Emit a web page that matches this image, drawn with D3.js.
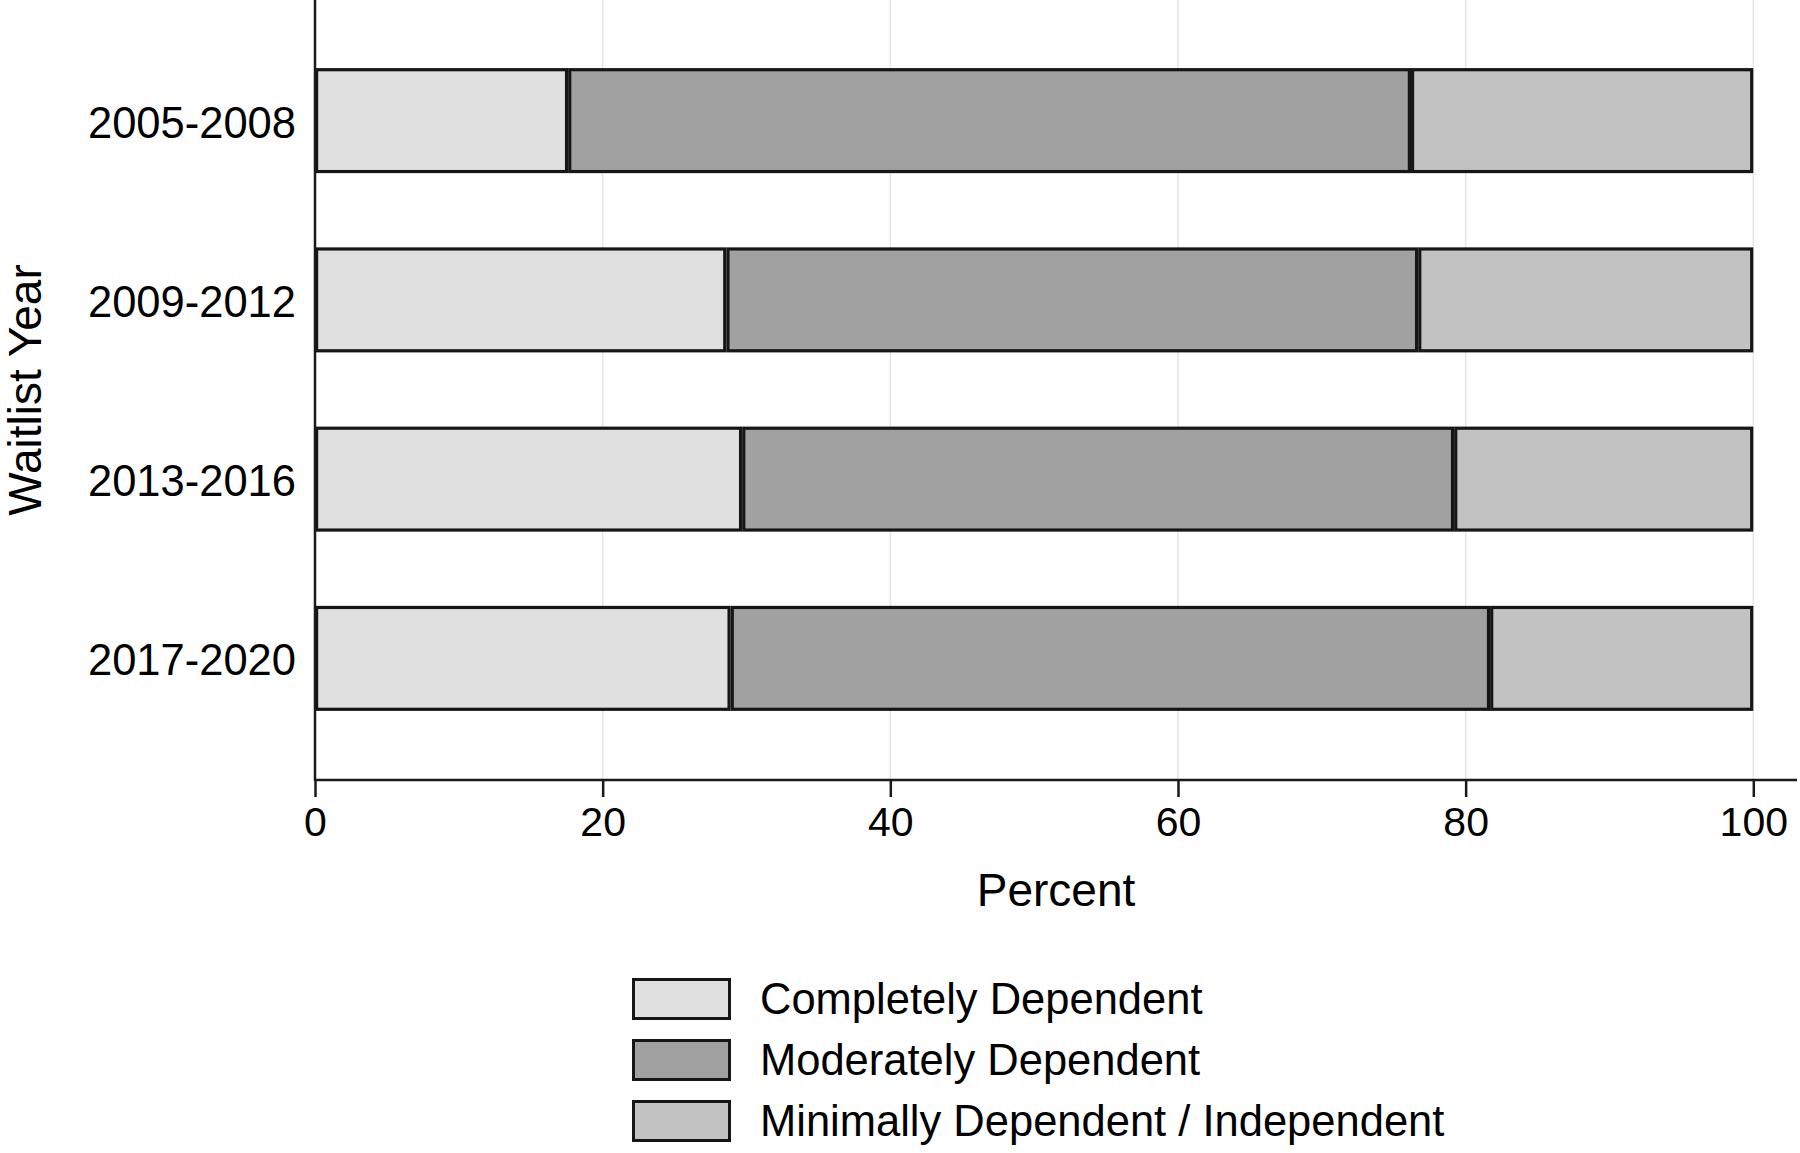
<!DOCTYPE html>
<html>
<head>
<meta charset="utf-8">
<script src="https://cdn.jsdelivr.net/npm/d3@7"></script>
<style>
  html, body { margin: 0; padding: 0; background: #fff; }
  svg { display: block; }
  text { font-family: "Liberation Sans", Arial, Helvetica, sans-serif; fill: #000; }
</style>
</head>
<body>
<svg id="chart" width="1800" height="1153"></svg>
<script>
// ---- data ----
const categories = ["2005-2008", "2009-2012", "2013-2016", "2017-2020"];
const seriesNames = ["Completely Dependent", "Moderately Dependent", "Minimally Dependent / Independent"];
const completely = [17.6, 28.6, 29.7, 28.9];
const moderately = [58.6, 48.1, 49.5, 52.8];
const minimally  = [23.8, 23.3, 20.8, 18.3];
const xTicks = [0, 20, 40, 60, 80, 100];
const xTitle = "Percent";
const yTitle = "Waitlist Year";

const colors = ["#e0e0e0", "#a1a1a1", "#c2c2c2"];

const svg = d3.select("#chart");
const xAxisY = 780, left = 315, right = 1797;

const x = d3.scaleLinear().domain([0, 100]).range([left, 1753.3]);
const y = d3.scaleBand().domain(categories).range([31, 748]).paddingInner(0.414).paddingOuter(0.207);

// gridlines
svg.append("g").selectAll("line").data(xTicks.filter(d => d > 0)).join("line")
  .attr("x1", d => x(d)).attr("x2", d => x(d))
  .attr("y1", 0).attr("y2", xAxisY)
  .attr("stroke", "#e6e6e6").attr("stroke-width", 1.5);

// stacked data
const rows = categories.map((c, i) => ({cat: c, v: [completely[i], moderately[i], minimally[i]]}));
const sw = 3.2;
const gBars = svg.append("g");
rows.forEach(r => {
  let acc = 0;
  r.v.forEach((v, k) => {
    const x0 = x(acc), x1 = x(acc + v);
    acc += v;
    gBars.append("rect")
      .attr("x", x0 + sw / 2).attr("width", Math.max(0, x1 - x0 - sw))
      .attr("y", y(r.cat) + sw / 2).attr("height", y.bandwidth() - sw)
      .attr("fill", colors[k]).attr("stroke", "#161616").attr("stroke-width", sw);
  });
});

// y axis line
svg.append("line").attr("x1", left).attr("x2", left).attr("y1", 0).attr("y2", xAxisY + 1)
  .attr("stroke", "#1a1a1a").attr("stroke-width", 2.5);

// y tick labels
svg.append("g").selectAll("text").data(categories).join("text")
  .attr("x", 296).attr("y", d => y(d) + y.bandwidth() / 2 + 2)
  .attr("text-anchor", "end").attr("dominant-baseline", "central")
  .style("font-size", "43.5px").text(d => d);

// x axis
const xAxis = d3.axisBottom(x).tickValues(xTicks).tickSize(17).tickPadding(10).tickFormat(d3.format("d"));
const gx = svg.append("g").attr("transform", `translate(0,${xAxisY})`).call(xAxis);
gx.select(".domain").remove();
gx.selectAll(".tick line").attr("stroke", "#1a1a1a").attr("stroke-width", 2.5);
gx.selectAll(".tick text").style("font-size", "41px").attr("fill", "#000")
  .style("font-family", "'Liberation Sans', Arial, sans-serif");
svg.append("line").attr("x1", left).attr("x2", right).attr("y1", xAxisY).attr("y2", xAxisY)
  .attr("stroke", "#1a1a1a").attr("stroke-width", 2.5);

// axis titles
svg.append("text").attr("x", (left + right) / 2).attr("y", 906)
  .attr("text-anchor", "middle").style("font-size", "46px").text(xTitle);
svg.append("text").attr("transform", `translate(41,${xAxisY / 2}) rotate(-90)`)
  .attr("text-anchor", "middle").style("font-size", "46px").text(yTitle);

// legend
const legY = d3.scalePoint().domain(seriesNames).range([999, 1121]);
const lg = svg.append("g");
seriesNames.forEach((s, k) => {
  const cy = legY(s);
  lg.append("rect").attr("x", 632 + 1.5).attr("y", cy - 21 + 1.5).attr("width", 99 - 3).attr("height", 42 - 3)
    .attr("fill", colors[k]).attr("stroke", "#161616").attr("stroke-width", 3);
  lg.append("text").attr("x", 760).attr("y", cy).attr("dominant-baseline", "central")
    .style("font-size", "43.5px").text(s);
});
</script>
</body>
</html>
